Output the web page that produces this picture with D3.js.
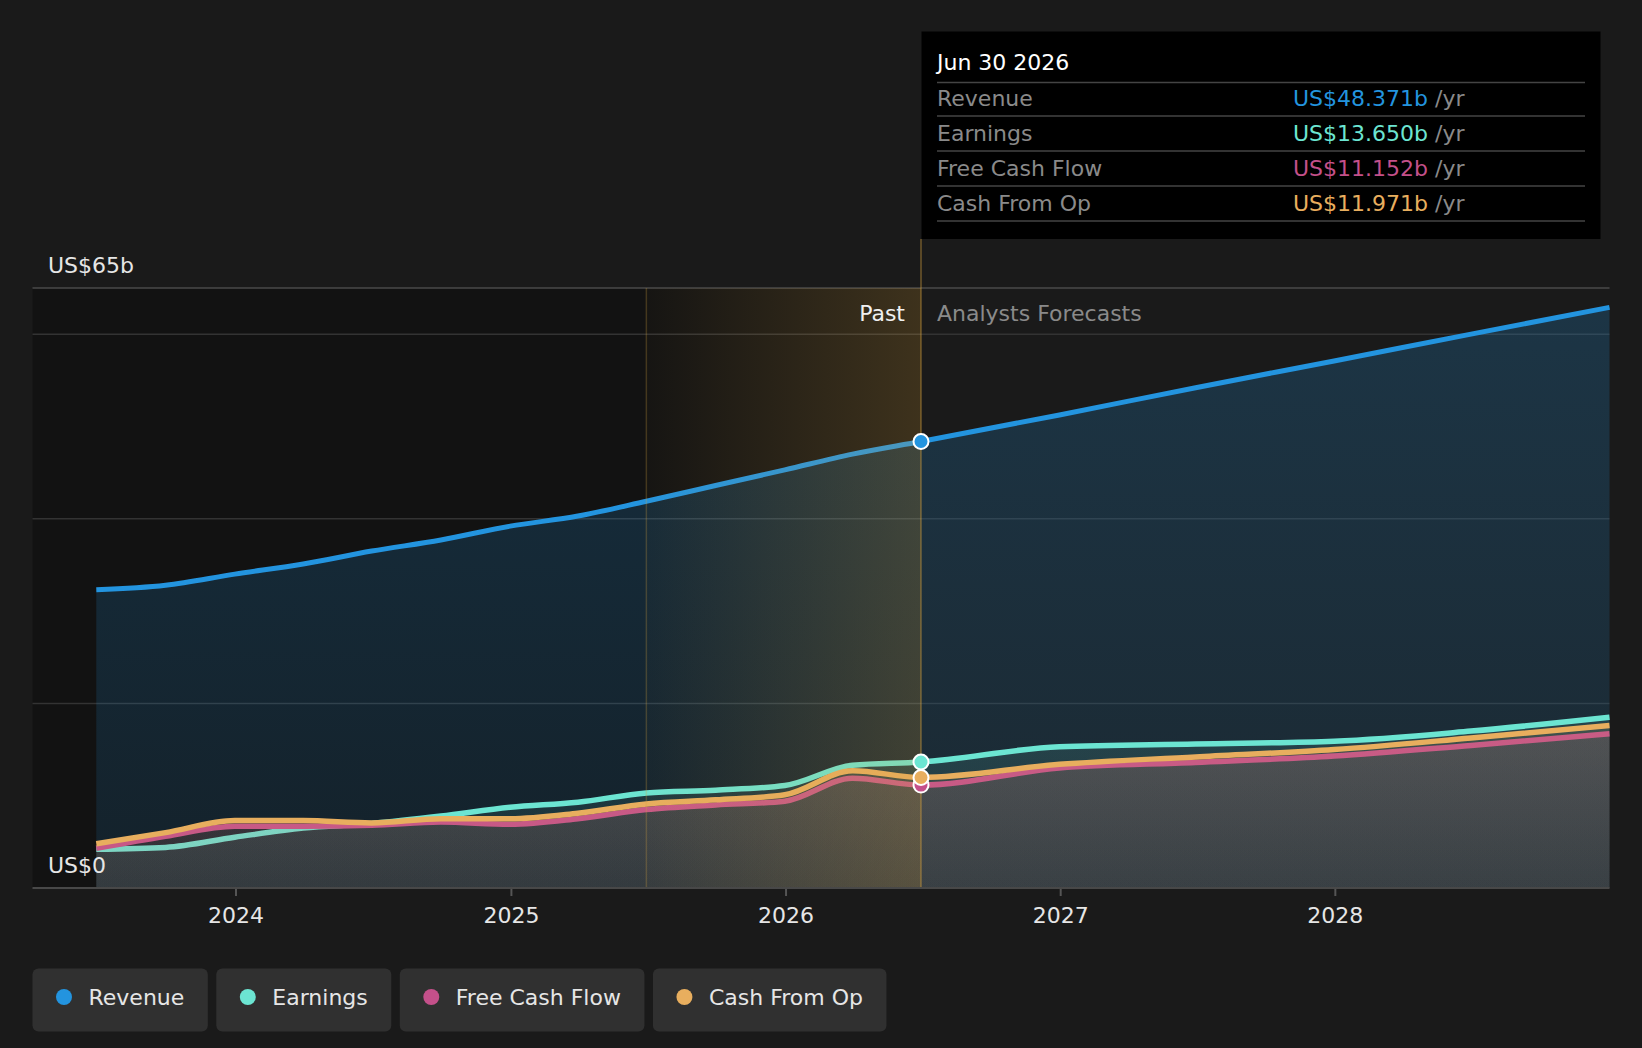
<!DOCTYPE html>
<html lang="en">
<head>
<meta charset="utf-8">
<script src="https://d3js.org/d3.v7.min.js"></script>
<style>
  html, body { margin: 0; padding: 0; background: #1a1a1a; }
  svg { display: block; font-family: "DejaVu Sans", sans-serif; }
</style>
</head>
<body>
<div id="chart"></div>
<script>
// ---- data (US$ billions) ----
var dates = ["2023-06-30", "2023-09-30", "2023-12-31", "2024-03-31", "2024-06-30",
             "2024-09-30", "2024-12-31", "2025-03-31", "2025-06-30", "2025-09-30",
             "2025-12-31", "2026-03-31", "2026-06-30", "2026-12-31", "2027-06-30",
             "2027-12-31", "2028-06-30", "2028-12-31"];
var revenue  = [32.3, 32.8, 34.0, 35.1, 36.5, 37.7, 39.2, 40.3, 41.9, 43.6, 45.3, 47.0, 48.371, 51.25, 54.2, 57.1, 60.0, 62.9];
var earnings = [4.2, 4.4, 5.5, 6.5, 7.0, 7.8, 8.75, 9.3, 10.3, 10.6, 11.1, 13.3, 13.65, 15.3, 15.6, 15.9, 17.0, 18.5];
var fcf      = [4.3, 5.6, 6.7, 6.7, 6.8, 7.15, 6.9, 7.5, 8.5, 9.0, 9.4, 11.9, 11.152, 13.0, 13.6, 14.3, 15.45, 16.7];
var cfo      = [4.8, 6.0, 7.3, 7.3, 7.05, 7.5, 7.5, 8.1, 9.1, 9.55, 10.1, 12.7, 11.971, 13.4, 14.2, 15.0, 16.25, 17.6];

var seriesNames  = ["Revenue", "Earnings", "Free Cash Flow", "Cash From Op"];
var seriesColors = ["#2394df", "#6ce5d2", "#c4508a", "#e8ae5e"];
var seriesValues = [revenue, earnings, fcf, cfo];
var tooltipValues = ["US$48.371b", "US$13.650b", "US$11.152b", "US$11.971b"];

var xTicks = ["2024-01-01", "2025-01-01", "2026-01-01", "2027-01-01", "2028-01-01"];
var yTickValues = [20, 40, 60];
var pastStart = "2025-06-30";
var today = "2026-06-30";

var W = 1642, H = 1048, FS = "22px";
var parse = d3.timeParse("%Y-%m-%d");

var svg = d3.select("#chart").append("svg")
  .attr("width", W).attr("height", H);

var plotLeft = 32.5, plotRight = 1609.5;
var x = d3.scaleTime()
  .domain([parse(dates[0]), parse(dates[dates.length - 1])])
  .range([96.3, 1609.5]);
var y = d3.scaleLinear().domain([0, 65]).range([888, 288]);

var defs = svg.append("defs");
function vGrad(id, color, a1, a2) {
  var g = defs.append("linearGradient").attr("id", id)
    .attr("x1", 0).attr("y1", 0).attr("x2", 0).attr("y2", 1);
  g.append("stop").attr("offset", "0%").attr("stop-color", color).attr("stop-opacity", a1);
  g.append("stop").attr("offset", "100%").attr("stop-color", color).attr("stop-opacity", a2);
}
vGrad("g0", seriesColors[0], 0.22, 0.12);
vGrad("g1", seriesColors[1], 0.13, 0.07);
vGrad("g2", seriesColors[2], 0.13, 0.07);
vGrad("g3", seriesColors[3], 0.13, 0.07);

var hl = defs.append("linearGradient").attr("id", "hl")
  .attr("x1", 0).attr("y1", 0).attr("x2", 1).attr("y2", 0);
hl.append("stop").attr("offset", "0%").attr("stop-color", "#d9a441").attr("stop-opacity", 0.02);
hl.append("stop").attr("offset", "100%").attr("stop-color", "#d9a441").attr("stop-opacity", 0.22);

var xToday = x(parse(today)), xPast = x(parse(pastStart));

// past darker background
svg.append("rect")
  .attr("x", plotLeft).attr("y", y(65))
  .attr("width", xToday - plotLeft).attr("height", y(0) - y(65))
  .attr("fill", "#000").attr("opacity", 0.28);

// gridlines
svg.selectAll(".grid").data(yTickValues).enter().append("line")
  .attr("x1", plotLeft).attr("x2", plotRight)
  .attr("y1", function(d) { return y(d); }).attr("y2", function(d) { return y(d); })
  .attr("stroke", "#333").attr("stroke-width", 1.5);
svg.append("line")
  .attr("x1", plotLeft).attr("x2", plotRight).attr("y1", y(65)).attr("y2", y(65))
  .attr("stroke", "#4a4a4a").attr("stroke-width", 1.5);

// series
var pts = seriesValues.map(function(vals) {
  return vals.map(function(v, i) { return { date: parse(dates[i]), value: v }; });
});
var area = d3.area().curve(d3.curveMonotoneX)
  .x(function(d) { return x(d.date); }).y0(y(0)).y1(function(d) { return y(d.value); });
var line = d3.line().curve(d3.curveMonotoneX)
  .x(function(d) { return x(d.date); }).y(function(d) { return y(d.value); });

pts.forEach(function(p, i) {
  svg.append("path").datum(p).attr("d", area).attr("fill", "url(#g" + i + ")");
  svg.append("path").datum(p).attr("d", line)
    .attr("fill", "none").attr("stroke", seriesColors[i])
    .attr("stroke-width", i === 0 ? 5 : 5.5);
});

// highlight band (past year) on top
svg.append("rect")
  .attr("x", xPast).attr("y", y(65))
  .attr("width", xToday - xPast).attr("height", y(0) - y(65))
  .attr("fill", "url(#hl)");
svg.append("line")
  .attr("x1", xPast).attr("x2", xPast).attr("y1", y(65)).attr("y2", y(0))
  .attr("stroke", "#d9a441").attr("stroke-opacity", 0.25).attr("stroke-width", 1.5);
svg.append("line")
  .attr("x1", xToday).attr("x2", xToday).attr("y1", 239).attr("y2", y(0))
  .attr("stroke", "#d9a441").attr("stroke-opacity", 0.45).attr("stroke-width", 1.5);

// baseline + x axis
var xAxis = d3.axisBottom(x)
  .tickValues(xTicks.map(parse))
  .tickFormat(d3.timeFormat("%Y"))
  .tickSize(8).tickPadding(11);
var ax = svg.append("g").attr("transform", "translate(0," + y(0) + ")").call(xAxis);
ax.select(".domain").remove();
ax.selectAll(".tick line").attr("stroke", "#555").attr("stroke-width", 2);
ax.selectAll(".tick text").attr("fill", "#e6e6e6").attr("font-size", FS)
  .attr("font-family", "DejaVu Sans, sans-serif");
svg.append("line")
  .attr("x1", plotLeft).attr("x2", plotRight).attr("y1", y(0)).attr("y2", y(0))
  .attr("stroke", "#484848").attr("stroke-width", 2);

// y labels
svg.append("text").attr("x", 48).attr("y", 273).attr("fill", "#e6e6e6")
  .attr("font-size", FS).text("US$65b");
svg.append("text").attr("x", 48).attr("y", 873).attr("fill", "#e6e6e6")
  .attr("font-size", FS).text("US$0");

// Past / Forecast labels
svg.append("text").attr("x", xToday - 16).attr("y", 321).attr("text-anchor", "end")
  .attr("fill", "#f0f0f0").attr("font-size", FS).text("Past");
svg.append("text").attr("x", xToday + 16).attr("y", 321)
  .attr("fill", "#8a8a8a").attr("font-size", FS).text("Analysts Forecasts");

// today dots
pts.forEach(function(p, i) {
  var d = p[dates.indexOf(today)];
  svg.append("circle").attr("cx", x(d.date)).attr("cy", y(d.value)).attr("r", 7.5)
    .attr("fill", seriesColors[i]).attr("stroke", "#fff").attr("stroke-width", 2);
});

// tooltip
var tip = svg.append("g");
tip.append("rect").attr("x", 921.5).attr("y", 31.5).attr("width", 679).attr("height", 207.5)
  .attr("fill", "#000");
tip.append("text").attr("x", 937).attr("y", 70).attr("fill", "#fff")
  .attr("font-size", FS).text(d3.timeFormat("%b %d %Y")(parse(today)));
var rowY = [116, 151, 186, 221];
tip.append("line").attr("x1", 937).attr("x2", 1585).attr("y1", 82.5).attr("y2", 82.5)
  .attr("stroke", "#444").attr("stroke-width", 1.5);
seriesNames.forEach(function(name, i) {
  var yb = rowY[i];
  tip.append("line").attr("x1", 937).attr("x2", 1585).attr("y1", yb).attr("y2", yb)
    .attr("stroke", "#444").attr("stroke-width", 1.5);
  tip.append("text").attr("x", 937).attr("y", yb - 10).attr("fill", "#8a8a8a")
    .attr("font-size", FS).text(name);
  var t = tip.append("text").attr("x", 1293).attr("y", yb - 10).attr("font-size", FS);
  t.append("tspan").attr("fill", seriesColors[i]).text(tooltipValues[i]);
  t.append("tspan").attr("fill", "#8a8a8a").text(" /yr");
});

// legend
var lx = 32.5;
seriesNames.forEach(function(name, i) {
  var g = svg.append("g");
  var r = g.append("rect").attr("x", lx).attr("y", 968.5).attr("height", 63)
    .attr("rx", 6).attr("fill", "#303030");
  g.append("circle").attr("cx", lx + 31.5).attr("cy", 997).attr("r", 8).attr("fill", seriesColors[i]);
  var t = g.append("text").attr("x", lx + 56).attr("y", 1004.5).attr("fill", "#e6e6e6")
    .attr("font-size", FS).text(name);
  var w = 56 + t.node().getComputedTextLength() + 23.5;
  r.attr("width", w);
  lx += w + 8.5;
});
</script>
</body>
</html>
